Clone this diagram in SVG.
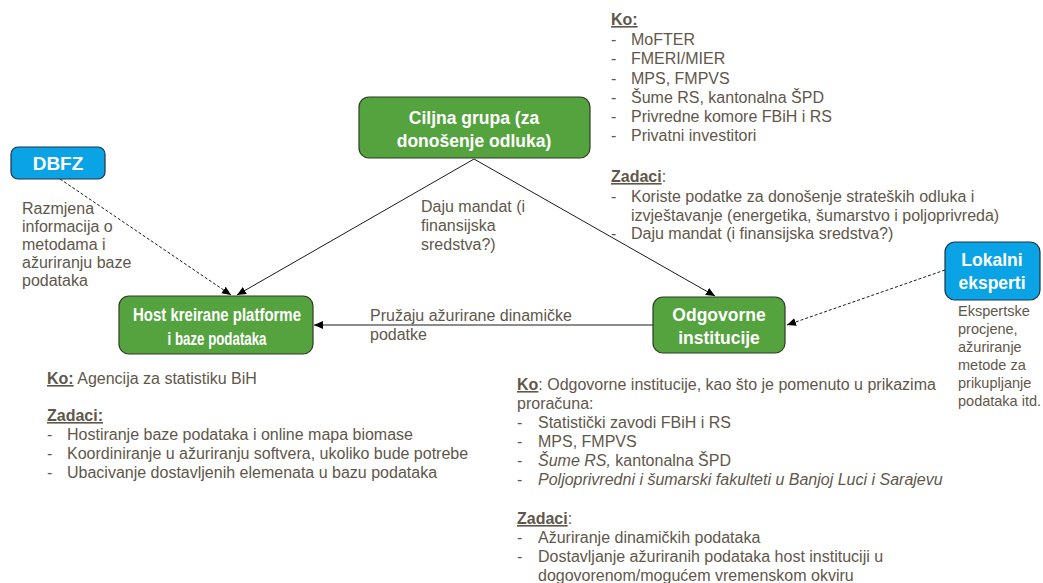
<svg xmlns="http://www.w3.org/2000/svg" width="1043" height="583" viewBox="0 0 1043 583">
<style>
.t{font-family:"Liberation Sans",Arial,sans-serif;font-size:16px;fill:#5f574b}
.s{font-size:14.5px}
.h{font-weight:bold;text-decoration:underline}
.nt{font-family:"Liberation Sans",Arial,sans-serif;font-size:17.5px;font-weight:bold;fill:#fff;text-anchor:middle}
.g{fill:#55a33f;stroke:#2d3b27;stroke-width:1.2}
.b{fill:#0aa3e6;stroke:#1c3546;stroke-width:1.2}
.c{fill:none;stroke:#1a1a1a;stroke-width:1}
.d{fill:none;stroke:#1a1a1a;stroke-width:1;stroke-dasharray:3 2}
</style>
<defs>
<marker id="ah" markerWidth="10" markerHeight="10" refX="9" refY="5" orient="auto" markerUnits="userSpaceOnUse">
<path d="M0,1 L9,5 L0,9 Z" fill="#000"/>
</marker>
</defs>
<rect width="1043" height="583" fill="#fff"/>

<g id="connectors">
<line class="c" x1="474" y1="159" x2="237" y2="295" marker-end="url(#ah)"/>
<line class="c" x1="474" y1="159" x2="715" y2="296" marker-end="url(#ah)"/>
<line class="c" x1="653" y1="325" x2="314" y2="325" marker-end="url(#ah)"/>
<line class="d" x1="60" y1="179" x2="231" y2="295" marker-end="url(#ah)"/>
<line class="d" x1="945" y1="270" x2="787" y2="325" marker-end="url(#ah)"/>
</g>

<g id="ciljna">
<rect class="g" x="359" y="97" width="231" height="61" rx="10"/>
<text class="nt" x="474" y="124">Ciljna grupa (za</text>
<text class="nt" x="474" y="147">donošenje odluka)</text>
</g>

<g id="host">
<rect class="g" x="119" y="296" width="194" height="58" rx="10"/>
<text class="nt" x="217" y="321" textLength="168" lengthAdjust="spacingAndGlyphs">Host kreirane platforme</text>
<text class="nt" x="217" y="345" textLength="99" lengthAdjust="spacingAndGlyphs">i baze podataka</text>
</g>

<g id="odgovorne">
<rect class="g" x="653" y="297" width="132" height="56" rx="10"/>
<text class="nt" x="719" y="321">Odgovorne</text>
<text class="nt" x="719" y="344">institucije</text>
</g>

<g id="dbfz">
<rect class="b" x="11" y="147" width="94" height="32" rx="7"/>
<text class="nt" x="58" y="170" style="font-size:19px">DBFZ</text>
</g>

<g id="lokalni">
<rect class="b" x="945" y="242" width="95" height="58" rx="10"/>
<text class="nt" x="992" y="266">Lokalni</text>
<text class="nt" x="992" y="289">eksperti</text>
</g>

<g id="labels">
<text class="t"><tspan x="421" y="212">Daju mandat (i</tspan><tspan x="421" y="231">finansijska</tspan><tspan x="421" y="250">sredstva?)</tspan></text>
<text class="t"><tspan x="370" y="321">Pružaju ažurirane dinamičke</tspan><tspan x="370" y="340">podatke</tspan></text>
<text class="t"><tspan x="22" y="214">Razmjena</tspan><tspan x="22" y="232">informacija o</tspan><tspan x="22" y="250">metodama i</tspan><tspan x="22" y="268">ažuriranju baze</tspan><tspan x="22" y="286">podataka</tspan></text>
<text class="t s"><tspan x="958" y="316">Ekspertske</tspan><tspan x="958" y="334">procjene,</tspan><tspan x="958" y="352">ažuriranje</tspan><tspan x="958" y="370">metode za</tspan><tspan x="958" y="388">prikupljanje</tspan><tspan x="958" y="406">podataka itd.</tspan></text>
</g>

<g id="text-top-right">
<text class="t h" x="611" y="25">Ko:</text>
<text class="t"><tspan x="611" y="45">-</tspan><tspan x="631" y="45">MoFTER</tspan></text>
<text class="t"><tspan x="611" y="64">-</tspan><tspan x="631" y="64">FMERI/MIER</tspan></text>
<text class="t"><tspan x="611" y="84">-</tspan><tspan x="631" y="84">MPS, FMPVS</tspan></text>
<text class="t"><tspan x="611" y="103">-</tspan><tspan x="631" y="103">Šume RS, kantonalna ŠPD</tspan></text>
<text class="t"><tspan x="611" y="122">-</tspan><tspan x="631" y="122">Privredne komore FBiH i RS</tspan></text>
<text class="t"><tspan x="611" y="141">-</tspan><tspan x="631" y="141">Privatni investitori</tspan></text>
<text class="t" x="611" y="182"><tspan class="h">Zadaci</tspan>:</text>
<text class="t"><tspan x="611" y="202">-</tspan><tspan x="631" y="202">Koriste podatke za donošenje strateških odluka i</tspan></text>
<text class="t" x="631" y="221">izvještavanje (energetika, šumarstvo i poljoprivreda)</text>
<text class="t"><tspan x="611" y="239">-</tspan><tspan x="631" y="239">Daju mandat (i finansijska sredstva?)</tspan></text>
</g>

<g id="text-bottom-left">
<text class="t" x="47" y="384"><tspan class="h">Ko:</tspan> Agencija za statistiku BiH</text>
<text class="t h" x="47" y="421">Zadaci:</text>
<text class="t"><tspan x="47" y="440">-</tspan><tspan x="67" y="440">Hostiranje baze podataka i online mapa biomase</tspan></text>
<text class="t"><tspan x="47" y="459">-</tspan><tspan x="67" y="459">Koordiniranje u ažuriranju softvera, ukoliko bude potrebe</tspan></text>
<text class="t"><tspan x="47" y="478">-</tspan><tspan x="67" y="478">Ubacivanje dostavljenih elemenata u bazu podataka</tspan></text>
</g>

<g id="text-bottom-right">
<text class="t" x="517" y="390"><tspan class="h">Ko</tspan>: Odgovorne institucije, kao što je pomenuto u prikazima</text>
<text class="t" x="517" y="409">proračuna:</text>
<text class="t"><tspan x="517" y="428">-</tspan><tspan x="538" y="428">Statistički zavodi FBiH i RS</tspan></text>
<text class="t"><tspan x="517" y="447">-</tspan><tspan x="538" y="447">MPS, FMPVS</tspan></text>
<text class="t"><tspan x="517" y="466">-</tspan><tspan x="538" y="466" font-style="italic">Šume RS,</tspan><tspan> kantonalna ŠPD</tspan></text>
<text class="t"><tspan x="517" y="485">-</tspan><tspan x="538" y="485" font-style="italic">Poljoprivredni i šumarski fakulteti u Banjoj Luci i Sarajevu</tspan></text>
<text class="t" x="517" y="524"><tspan class="h">Zadaci</tspan>:</text>
<text class="t"><tspan x="517" y="543">-</tspan><tspan x="538" y="543">Ažuriranje dinamičkih podataka</tspan></text>
<text class="t"><tspan x="517" y="562">-</tspan><tspan x="538" y="562">Dostavljanje ažuriranih podataka host instituciji u</tspan></text>
<text class="t" x="538" y="581">dogovorenom/mogućem vremenskom okviru</text>
</g>
</svg>
